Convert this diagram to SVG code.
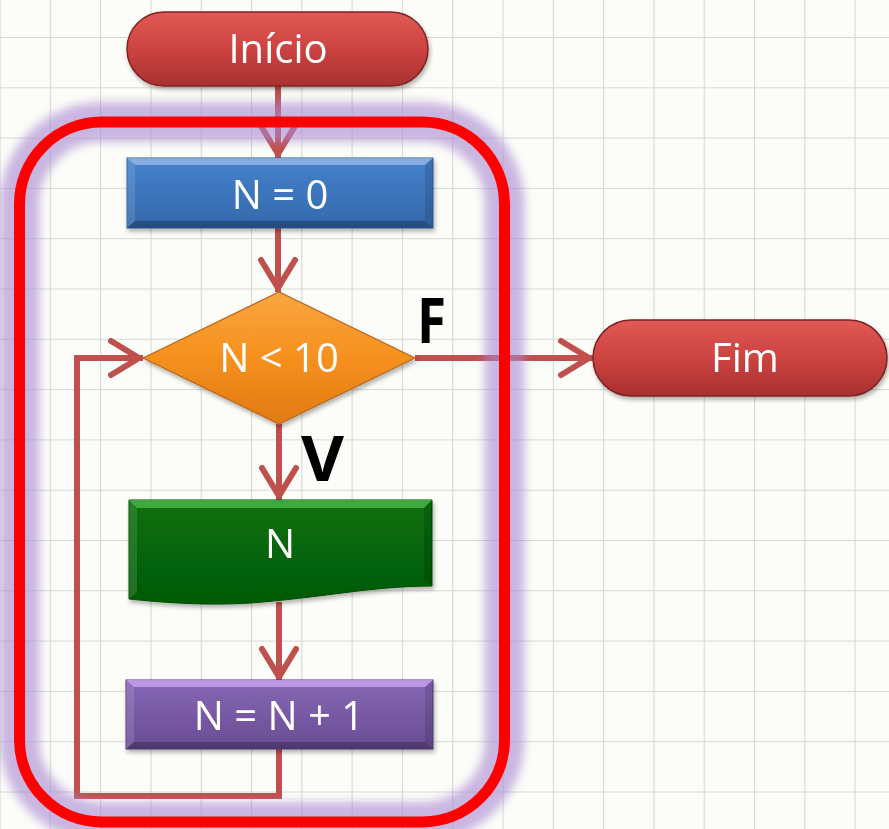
<svg xmlns="http://www.w3.org/2000/svg" width="889" height="829" viewBox="0 0 889 829">
<defs>
<style>
.lbl{fill:#ffffff;font-family:"Open Sans","Liberation Sans",sans-serif;font-size:40px;text-anchor:middle}
.big{fill:#000000;font-family:"Open Sans","Liberation Sans",sans-serif;font-weight:bold;font-size:62px}
.conn{fill:none;stroke:#c0504d;stroke-width:6;stroke-linejoin:miter}
.hi{fill:#ffffff;opacity:0.35}
.lo{fill:#000000;opacity:0.25}
.sd{fill:#ffffff;opacity:0.12}
.sr{fill:#000000;opacity:0.12}
</style>
<pattern id="grid" x="-0.5" y="37" width="50.3" height="50.3" patternUnits="userSpaceOnUse">
<path d="M0.5 0 V50.3 M0 0.5 H50.3" stroke="#d6d8d4" stroke-width="1.2" fill="none"/>
</pattern>
<linearGradient id="gRed" x1="0" y1="0" x2="0" y2="1">
<stop offset="0" stop-color="#e05a55"/><stop offset="0.5" stop-color="#cc4340"/><stop offset="1" stop-color="#a8312f"/>
</linearGradient>
<linearGradient id="gBlue" x1="0" y1="0" x2="0" y2="1">
<stop offset="0" stop-color="#4582cc"/><stop offset="1" stop-color="#3468ab"/>
</linearGradient>
<linearGradient id="gOrange" x1="0" y1="0" x2="0" y2="1">
<stop offset="0" stop-color="#f9a640"/><stop offset="0.5" stop-color="#f6901e"/><stop offset="1" stop-color="#e27a12"/>
</linearGradient>
<linearGradient id="gGreen" x1="0" y1="0" x2="0" y2="1">
<stop offset="0" stop-color="#08700a"/><stop offset="1" stop-color="#055a06"/>
</linearGradient>
<linearGradient id="gPurple" x1="0" y1="0" x2="0" y2="1">
<stop offset="0" stop-color="#8667b4"/><stop offset="1" stop-color="#6a4c94"/>
</linearGradient>
<filter id="shadow" x="-10%" y="-20%" width="120%" height="150%">
<feDropShadow dx="1.5" dy="3" stdDeviation="2" flood-color="#000" flood-opacity="0.3"/>
</filter>
<filter id="glow" x="-20%" y="-20%" width="140%" height="140%">
<feGaussianBlur stdDeviation="5"/>
</filter>
<marker id="arr" viewBox="-40 -22 46 44" markerWidth="46" markerHeight="44" refX="0" refY="0" orient="auto" markerUnits="userSpaceOnUse">
<path d="M-32,-17 L-4,0 L-32,17" fill="none" stroke="#c0504d" stroke-width="6" stroke-linejoin="miter" stroke-linecap="round"/>
</marker>
</defs>

<rect x="0" y="0" width="889" height="829" fill="#fcfdf8"/>
<rect x="0" y="0" width="889" height="829" fill="url(#grid)"/>

<g id="connectors">
<path class="conn" d="M278 86 V158" marker-end="url(#arr)"/>
<path class="conn" d="M278 228 V292" marker-end="url(#arr)"/>
<path class="conn" d="M279 424 V500" marker-end="url(#arr)"/>
<path class="conn" d="M279 602 V681" marker-end="url(#arr)"/>
<path class="conn" d="M279 749 V796 H77 V358 H143" marker-end="url(#arr)"/>
<path class="conn" d="M415 358 H593" marker-end="url(#arr)"/>
</g>

<g id="frame">
<rect x="19.5" y="122" width="485" height="700" rx="82" fill="none" stroke="#a886d2" stroke-width="40" opacity="0.6" filter="url(#glow)"/>
<rect x="19.5" y="122" width="485" height="700" rx="82" fill="none" stroke="#ff0000" stroke-width="11"/>
</g>

<g id="inicio" filter="url(#shadow)">
<rect x="127" y="12" width="301" height="74" rx="37" fill="url(#gRed)" stroke="#7c2422" stroke-width="1.5"/>
<text class="lbl" x="278" y="63">Início</text>
</g>

<g id="n0" filter="url(#shadow)">
<rect x="127" y="158" width="306" height="70" fill="url(#gBlue)" stroke="#2d5f9c" stroke-width="1"/>
<polygon class="hi" points="127,158 433,158 425,165 135,165"/>
<polygon class="lo" points="127,228 433,228 425,221 135,221"/>
<polygon class="sd" points="127,158 135,165 135,221 127,228"/>
<polygon class="sr" points="433,158 425,165 425,221 433,228"/>
<text class="lbl" x="280" y="209">N = 0</text>
</g>

<g id="decisao" filter="url(#shadow)">
<polygon points="143,358 279,292 415,358 279,424" fill="url(#gOrange)" stroke="#b8681c" stroke-width="1.2"/>
<text class="lbl" x="279" y="372">N &lt; 10</text>
</g>

<g id="saida" filter="url(#shadow)">
<path d="M129,500 H432 V586 C372,586 320,598 250,603 C200,606 160,602 129,599 Z" fill="url(#gGreen)" stroke="#054a05" stroke-width="1"/>
<polygon points="129,500 432,500 424,508 137,508" fill="#4cb84c" opacity="0.8"/>
<polygon class="sd" points="129,500 137,508 137,592 129,599"/>
<polygon class="sr" points="432,500 424,508 424,579 432,586"/>
<text class="lbl" x="280" y="558">N</text>
</g>

<g id="incremento" filter="url(#shadow)">
<rect x="126" y="680" width="307" height="69" fill="url(#gPurple)" stroke="#54397a" stroke-width="1"/>
<polygon points="126,680 433,680 425,687 134,687" fill="#d0a8f6" opacity="0.75"/>
<polygon class="lo" points="126,749 433,749 425,742 134,742"/>
<polygon class="sd" points="126,680 134,687 134,742 126,749"/>
<polygon class="sr" points="433,680 425,687 425,742 433,749"/>
<text class="lbl" x="279" y="730">N = N + 1</text>
</g>

<g id="fim" filter="url(#shadow)">
<rect x="593" y="320" width="294" height="76" rx="38" fill="url(#gRed)" stroke="#7c2422" stroke-width="1.5"/>
<text class="lbl" x="745" y="372">Fim</text>
</g>

<g id="labels">
<text class="big" x="417" y="343" textLength="29" lengthAdjust="spacingAndGlyphs">F</text>
<text class="big" x="301" y="481" textLength="43" lengthAdjust="spacingAndGlyphs">V</text>
</g>
</svg>
